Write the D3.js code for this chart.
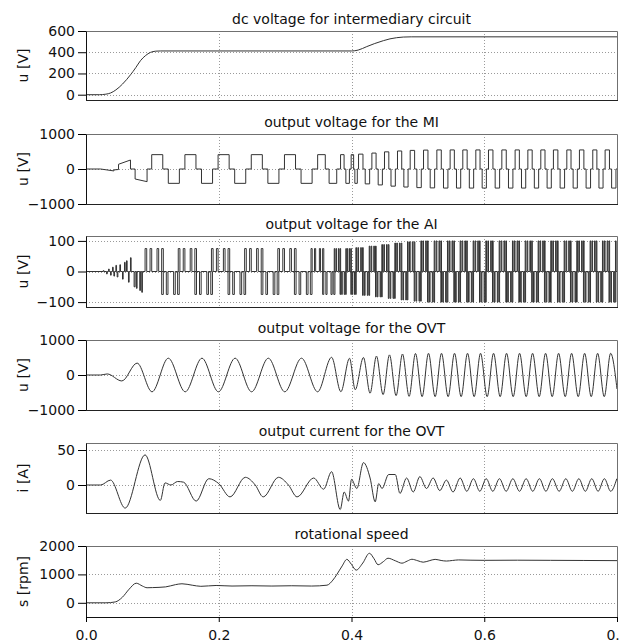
<!DOCTYPE html>
<html>
<head>
<meta charset="utf-8">
<script src="https://cdn.jsdelivr.net/npm/d3@7"></script>
<style>
  body { margin: 0; background: #fff; }
  svg { display: block; font-family: "DejaVu Sans", sans-serif; }
</style>
</head>
<body>
<div id="plot"></div>
<script>
// ---- data ----

// dc voltage for intermediary circuit
const dcTime = [0, 0.02, 0.03, 0.037, 0.045, 0.055, 0.067, 0.075, 0.082, 0.09, 0.097, 0.105, 0.112,
                0.4, 0.41, 0.423, 0.435, 0.448, 0.458, 0.468, 0.478, 0.49, 0.8];
const dcVolt = [0, 0, 5, 16, 45, 100, 187, 255, 320, 370, 398, 410, 412,
                412, 420, 453, 482, 509, 526, 537, 543, 545, 545];

// output voltage for the MI: start-up part, then one block pulse pair per cycle
const miEarlyTime = [0, 0.022, 0.042, 0.042, 0.049, 0.049, 0.067, 0.067, 0.074, 0.074, 0.092, 0.092, 0.099];
const miEarlyVolt = [0, 0, -55, -25, -15, 135, 257, 0, 0, -286, -362, 0, 0];
const miCycleStart = [0.099, 0.149, 0.199, 0.249, 0.299, 0.349, 0.3835, 0.3995,
                      0.4106, 0.4307, 0.4497, 0.4693, 0.4884, 0.5085, 0.5286, 0.5486, 0.5677, 0.5873,
                      0.6064, 0.6265, 0.6465, 0.6657, 0.6852, 0.7042, 0.7244, 0.7434, 0.7635, 0.7821, 0.8017];
const miCycleAmp = [410, 410, 410, 410, 410, 410, 410, 410,
                    425, 455, 490, 515, 532, 540, 545, 545, 545, 545,
                    545, 545, 545, 545, 545, 545, 545, 545, 545, 545];
const miPulseFrac = [1 / 3, 1 / 2, 5 / 6];   // + ends, - starts, - ends (fraction of cycle)

// output voltage for the AI: start-up pulses [start, end, level], then pulse groups per cycle
const aiEarly = [
  [0.026, 0.027, 3], [0.031, 0.032, -8], [0.034, 0.035, 8], [0.037, 0.038, -12],
  [0.040, 0.041, 14], [0.042, 0.043, -15], [0.045, 0.046, 20], [0.047, 0.048, -18],
  [0.051, 0.052, 22], [0.055, 0.056, -25], [0.058, 0.059, 30], [0.061, 0.062, 35],
  [0.064, 0.065, -35], [0.067, 0.068, 45], [0.0725, 0.074, -50], [0.076, 0.077, -55],
  [0.081, 0.082, -62], [0.084, 0.085, -68]
];
const aiCycleStart = [0.089, 0.139, 0.189, 0.239, 0.289, 0.339, 0.374, 0.3915,
                      0.4066, 0.4267, 0.4457, 0.4653, 0.4844, 0.5045, 0.5246, 0.5446, 0.5637, 0.5833,
                      0.6024, 0.6225, 0.6425, 0.6617, 0.6812, 0.7002, 0.7204, 0.7394, 0.7595, 0.7781, 0.7977, 0.817];
const aiCycleAmp = [75, 75, 75, 75, 75, 75, 75, 75,
                    78, 83, 88, 93, 97, 100, 100, 100, 100, 100,
                    100, 100, 100, 100, 100, 100, 100, 100, 100, 100, 100];
const aiPosFrac = [0.0, 0.15, 0.36, 0.5];
const aiNegFrac = [0.5, 0.64, 0.86, 0.98];
const aiPulseWidth = 0.05;

// output voltage for the OVT: turning points of the waveform
const ovtTime = [0, 0.022, 0.032, 0.054, 0.077, 0.0995, 0.124, 0.1495, 0.1747, 0.1995, 0.2247, 0.2495,
                 0.2747, 0.2995, 0.3247, 0.349, 0.370, 0.384, 0.397, 0.4056,
                 0.418, 0.428, 0.4376, 0.4476, 0.4572, 0.4672, 0.4768, 0.4868, 0.4964, 0.5064,
                 0.516, 0.526, 0.5356, 0.5456, 0.5552, 0.5652, 0.5748, 0.5848, 0.5944, 0.6044,
                 0.614, 0.624, 0.6336, 0.6436, 0.6532, 0.6632, 0.6728, 0.6828, 0.6924, 0.7024,
                 0.712, 0.722, 0.7316, 0.7416, 0.7512, 0.7612, 0.7708, 0.7808, 0.7904, 0.8];
const ovtVolt = [0, 0, 30, -170, 340, -480, 480, -480, 480, -480, 480, -480,
                 480, -480, 480, -480, 505, -477, 477, -420,
                 500, -520, 540, -560, 575, -590, 600, -610, 615, -620,
                 620, -620, 620, -620, 620, -620, 620, -620, 620, -620,
                 620, -620, 620, -620, 620, -620, 620, -620, 620, -620,
                 620, -620, 620, -620, 620, -620, 620, -620, 620, -400];

// output current for the OVT
const curTime = [0, 0.022, 0.037, 0.059, 0.089, 0.112, 0.119, 0.128, 0.138, 0.147, 0.166, 0.185, 0.2,
                 0.217, 0.24, 0.255, 0.267, 0.29, 0.305, 0.318, 0.343, 0.358, 0.37, 0.383, 0.389, 0.3955,
                 0.4, 0.408, 0.418, 0.428, 0.4357, 0.441, 0.446, 0.456, 0.466, 0.473, 0.483, 0.493,
                 0.503, 0.513, 0.523, 0.533, 0.543, 0.553, 0.5637, 0.5737, 0.5837, 0.5933, 0.6029,
                 0.6129, 0.6229, 0.633, 0.6431, 0.6531, 0.6631, 0.6731, 0.6831, 0.6929, 0.7027, 0.7128,
                 0.7229, 0.7327, 0.7425, 0.7523, 0.762, 0.7715, 0.781, 0.7905, 0.7997];
const curAmp = [0, 0, 7, -33, 43, -22, 3, 0, 5, 4, -23, 9, 2,
                -17, 11, 0, -17, 11, 0, -17, 10, -6, 19, -35, -10, -23,
                8, -5, 32, 10, -24, 2, -5, 15, 15, -12, 10, -10,
                12, -5, 10, -8, 7, -10, 10, -9, 9, -9, 9,
                -9, 9, -9, 9, -9, 9, -9, 9, -9, 9, -9,
                9, -9, 9, -9, 9, -9, 9, -9, 9];

// rotational speed
const spdTime = [0, 0.03, 0.044, 0.055, 0.065, 0.0757, 0.085, 0.092, 0.1, 0.12, 0.135, 0.1446, 0.16, 0.173,
                 0.196, 0.22, 0.25, 0.28, 0.31, 0.34, 0.363, 0.372, 0.378, 0.386, 0.393, 0.4, 0.407, 0.417,
                 0.427, 0.434, 0.44, 0.448, 0.455, 0.466, 0.476, 0.484, 0.491, 0.5, 0.508, 0.517, 0.526,
                 0.535, 0.543, 0.552, 0.561, 0.58, 0.6, 0.65, 0.7, 0.75, 0.8];
const spdRpm = [0, 0, 30, 200, 480, 690, 590, 530, 535, 560, 640, 670, 620, 580,
                610, 590, 600, 590, 600, 590, 620, 800, 1000, 1300, 1530, 1350, 1150, 1400,
                1744, 1550, 1340, 1450, 1570, 1480, 1395, 1470, 1533, 1480, 1430, 1480, 1530,
                1490, 1470, 1490, 1510, 1500, 1495, 1500, 1495, 1490, 1485];

const titles = ["dc voltage for intermediary circuit", "output voltage for the MI", "output voltage for the AI",
                "output voltage for the OVT", "output current for the OVT", "rotational speed"];
const yLabels = ["u [V]", "u [V]", "u [V]", "u [V]", "i [A]", "s [rpm]"];
const yTicks = [[0, 200, 400, 600], [-1000, 0, 1000], [-100, 0, 100], [-1000, 0, 1000], [0, 50], [0, 1000, 2000]];
const yGrid = [[0, 200, 400], [0], [-100, 0, 100], [0], [0, 50], [0, 1000]];
const yDomains = [[-50, 600], [-1000, 1000], [-116, 116], [-1000, 1000], [-40, 60], [-500, 2000]];
const xTicks = [0, 0.2, 0.4, 0.6, 0.8];

// ---- build the step-shaped series ----
function zip(a, b) { return a.map((t, i) => [t, b[i]]); }

function miPoints() {
  const pts = zip(miEarlyTime, miEarlyVolt);
  for (let i = 0; i < miCycleStart.length - 1; i++) {
    const s = miCycleStart[i], p = miCycleStart[i + 1] - s, a = miCycleAmp[i];
    const [f1, f2, f3] = miPulseFrac;
    pts.push([s, 0], [s, a], [s + p * f1, a], [s + p * f1, 0], [s + p * f2, 0], [s + p * f2, -a],
             [s + p * f3, -a], [s + p * f3, 0], [s + p, 0]);
  }
  return pts;
}

function aiPoints() {
  const pulses = aiEarly.slice();
  for (let i = 0; i < aiCycleStart.length - 1; i++) {
    const s = aiCycleStart[i], p = aiCycleStart[i + 1] - s, a = aiCycleAmp[i];
    aiPosFrac.forEach(f => pulses.push([s + p * f, s + p * (f + aiPulseWidth), a]));
    aiNegFrac.forEach(f => pulses.push([s + p * f, s + p * (f + aiPulseWidth), -a]));
  }
  pulses.sort((a, b) => a[0] - b[0]);
  const pts = [[0, 0]];
  pulses.forEach(([t0, t1, v]) => pts.push([t0, 0], [t0, v], [t1, v], [t1, 0]));
  pts.push([0.8, 0]);
  return pts;
}

const series = [
  { pts: zip(dcTime, dcVolt), curve: d3.curveMonotoneX },
  { pts: miPoints(), curve: d3.curveLinear },
  { pts: aiPoints(), curve: d3.curveLinear },
  { pts: zip(ovtTime, ovtVolt), curve: d3.curveMonotoneX },
  { pts: zip(curTime, curAmp), curve: d3.curveMonotoneX },
  { pts: zip(spdTime, spdRpm), curve: d3.curveMonotoneX }
];

// ---- layout ----
const width = 619, height = 643;
const panelTop = [31, 134, 236, 340, 443, 546];
const panelBottom = [100, 204, 307, 410, 513, 617];

const x = d3.scaleLinear().domain([0, 0.8]).range([86, 617]);

const svg = d3.select("#plot").append("svg")
    .attr("width", width)
    .attr("height", height)
    .attr("viewBox", [0, 0, width, height])
    .style("overflow", "visible");

series.forEach((s, i) => {
  const top = panelTop[i], bottom = panelBottom[i];
  const y = d3.scaleLinear().domain(yDomains[i]).range([bottom, top]);
  const g = svg.append("g");

  // clip for the curve
  g.append("clipPath").attr("id", "clip" + i)
    .append("rect").attr("x", x.range()[0]).attr("y", top)
    .attr("width", x.range()[1] - x.range()[0]).attr("height", bottom - top);

  // grid
  const grid = g.append("g").attr("stroke", "#9a9a9a").attr("stroke-dasharray", "1,2").attr("stroke-width", 1);
  grid.selectAll(".gy").data(yGrid[i]).join("line")
    .attr("x1", x.range()[0]).attr("x2", x.range()[1])
    .attr("y1", d => Math.round(y(d)) + 0.5).attr("y2", d => Math.round(y(d)) + 0.5);
  grid.selectAll(".gx").data([0.2, 0.4, 0.6]).join("line")
    .attr("x1", d => Math.round(x(d)) + 0.5).attr("x2", d => Math.round(x(d)) + 0.5)
    .attr("y1", top).attr("y2", bottom);

  // frame
  g.append("path")
    .attr("d", `M${x.range()[0]},${top + 0.5}H${x.range()[1] + 0.5}V${bottom + 0.5}H${x.range()[0]}`)
    .attr("fill", "none").attr("stroke", "#707070");

  // curve
  g.append("path")
    .datum(s.pts)
    .attr("clip-path", `url(#clip${i})`)
    .attr("fill", "none")
    .attr("stroke", "#333")
    .attr("stroke-width", 1)
    .attr("d", d3.line().x(d => x(d[0])).y(d => y(d[1])).curve(s.curve));

  // left axis
  const yAxis = g.append("g")
    .attr("transform", `translate(${x.range()[0]},0)`)
    .call(d3.axisLeft(y).tickValues(yTicks[i]).tickFormat(d3.format("d"))
      .tickSize(8).tickPadding(3).tickSizeOuter(0));
  yAxis.select(".domain").attr("stroke", "#111");
  yAxis.selectAll("text").attr("font-size", 14).attr("font-family", "DejaVu Sans").attr("fill", "#111");

  // bottom line of each panel
  g.append("line")
    .attr("x1", x.range()[0]).attr("x2", x.range()[1] + 1)
    .attr("y1", bottom + 0.5).attr("y2", bottom + 0.5)
    .attr("stroke", "#222");

  // title
  g.append("text")
    .attr("x", (x.range()[0] + x.range()[1]) / 2)
    .attr("y", top - 7)
    .attr("text-anchor", "middle")
    .attr("font-size", 14)
    .attr("fill", "#111")
    .text(titles[i]);

  // y label
  g.append("text")
    .attr("transform", `translate(27.5,${(top + bottom) / 2}) rotate(-90)`)
    .attr("text-anchor", "middle")
    .attr("font-size", 14)
    .attr("fill", "#111")
    .text(yLabels[i]);

  if (i === series.length - 1) {
    const xAxis = g.append("g")
      .attr("transform", `translate(0,${bottom})`)
      .call(d3.axisBottom(x).tickValues(xTicks).tickFormat(d3.format(".1f")).tickSize(5).tickPadding(8).tickSizeOuter(0));
    xAxis.select(".domain").attr("stroke", "#111");
    xAxis.selectAll("text").attr("font-size", 14).attr("font-family", "DejaVu Sans").attr("fill", "#111");
  }
});
</script>
</body>
</html>
